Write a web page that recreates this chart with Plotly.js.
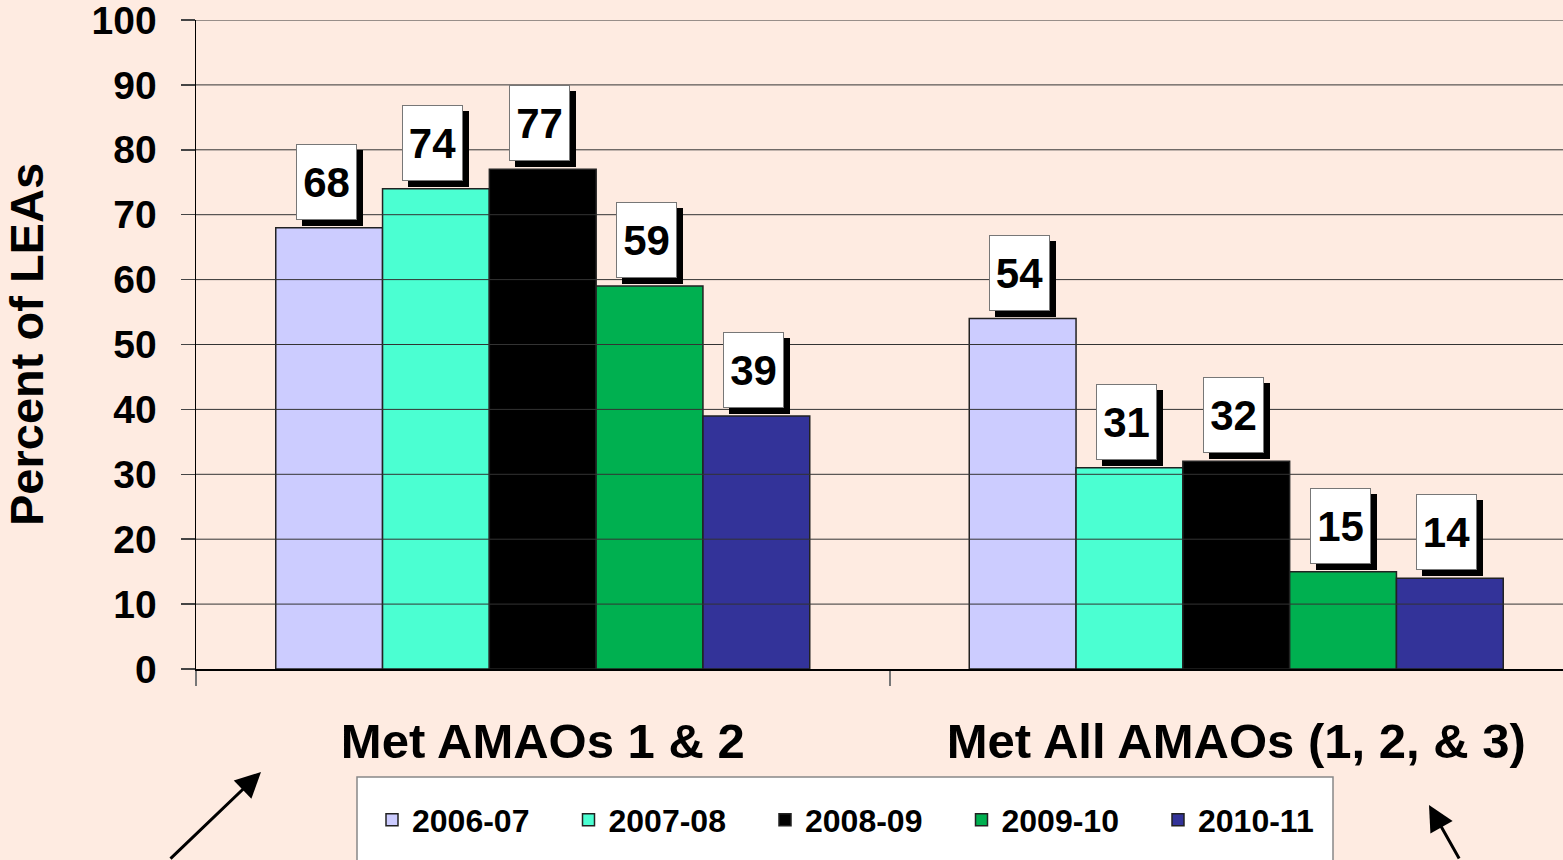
<!DOCTYPE html>
<html>
<head>
<meta charset="utf-8">
<script src="https://cdn.plot.ly/plotly-3.0.1.min.js"></script>
<style>html,body{margin:0;padding:0;background:#FEEBE1;}#chart{width:1563px;height:860px;}</style>
</head>
<body>
<div id="chart"></div>
<script>
// ---- data ----
const categories = ['Met AMAOs 1 & 2', 'Met All AMAOs (1, 2, & 3)'];
const seriesNames = ['2006-07', '2007-08', '2008-09', '2009-10', '2010-11'];
const values2006_07 = [68, 54];
const values2007_08 = [74, 31];
const values2008_09 = [77, 32];
const values2009_10 = [59, 15];
const values2010_11 = [39, 14];
const seriesColors = ['#CCCCFF', '#4BFFD2', '#000000', '#00B050', '#333399'];
const yTickValues = [0, 10, 20, 30, 40, 50, 60, 70, 80, 90, 100];

const allValues = [values2006_07, values2007_08, values2008_09, values2009_10, values2010_11];

// ---- layout geometry ----
const W = 1563, H = 860;
const M = {l: 196, r: 0, t: 20, b: 191};
const plotW = W - M.l - M.r, plotH = H - M.t - M.b;
const catPx = 693.5;
const xRange = [-0.5, -0.5 + plotW / catPx];
const bargap = 0.23;
const nSeries = seriesNames.length;
const barW = (1 - bargap) / nSeries;
const px2x = p => (p - M.l) / plotW;
const px2y = p => (M.t + plotH - p) / plotH;

const FONT = 'Liberation Sans, Arial, sans-serif';

const traces = allValues.map((vals, i) => ({
  type: 'bar',
  name: seriesNames[i],
  x: categories,
  y: vals,
  marker: {color: seriesColors[i], line: {color: '#222222', width: 1.5}},
  hoverinfo: 'skip'
}));

const annotations = [];
allValues.forEach((vals, i) => {
  vals.forEach((v, c) => {
    const xc = c - (1 - bargap) / 2 + barW * (i + 0.5);
    const base = {
      x: xc, y: v, xref: 'x', yref: 'y', showarrow: false,
      yanchor: 'bottom', xanchor: 'center',
      width: 59, height: 74, borderpad: 0, borderwidth: 1
    };
    annotations.push(Object.assign({}, base, {
      text: '', bgcolor: '#000000', bordercolor: '#000000',
      xshift: 3, yshift: 2
    }));
    annotations.push(Object.assign({}, base, {
      text: String(v), bgcolor: '#FFFFFF', bordercolor: '#777777',
      xshift: -3, yshift: 8,
      font: {family: FONT, size: 42, color: '#000000', weight: 'bold'}
    }));
  });
});

// decorative arrows below the chart
annotations.push({
  x: px2x(261), y: px2y(772), xref: 'paper', yref: 'paper',
  ax: -92, ay: 90, text: '', showarrow: true,
  arrowhead: 2, arrowsize: 1.7, arrowwidth: 3, arrowcolor: '#000000'
});
annotations.push({
  x: px2x(1429), y: px2y(805), xref: 'paper', yref: 'paper',
  ax: 31, ay: 60, text: '', showarrow: true,
  arrowhead: 2, arrowsize: 1.7, arrowwidth: 3, arrowcolor: '#000000'
});

const shapes = [];
// gridlines drawn over bars, as in the reference
yTickValues.filter(v => v > 0).forEach(v => {
  shapes.push({type: 'line', xref: 'paper', yref: 'y', x0: 0, x1: 1, y0: v, y1: v,
    line: {color: '#333333', width: 1}, layer: 'above'});
});
// legend box
shapes.push({type: 'rect', xref: 'paper', yref: 'paper',
  x0: px2x(357), x1: px2x(1333), y0: px2y(880), y1: px2y(777),
  fillcolor: '#FFFFFF', line: {color: '#888888', width: 1.5}, layer: 'below'});

const layout = {
  width: W, height: H,
  margin: M,
  paper_bgcolor: '#FEEBE1',
  plot_bgcolor: '#FEEBE1',
  barmode: 'group',
  bargap: bargap,
  bargroupgap: 0,
  showlegend: true,
  font: {family: FONT, color: '#000000'},
  xaxis: {
    type: 'category',
    range: xRange,
    showgrid: false,
    showline: true, linecolor: '#000000', linewidth: 1.5,
    ticks: 'outside', tickson: 'boundaries', ticklen: 15, tickwidth: 2, tickcolor: '#777777',
    ticklabelstandoff: 29,
    tickfont: {family: FONT, size: 49, color: '#000000', weight: 'bold'},
    fixedrange: true
  },
  yaxis: {
    range: [0, 100],
    tickvals: yTickValues,
    ticktext: yTickValues.map(String),
    showgrid: false,
    zeroline: false,
    showline: true, linecolor: '#000000', linewidth: 1.5,
    ticks: 'outside', ticklen: 14, tickwidth: 1.5, tickcolor: '#444444',
    ticklabelstandoff: 16,
    ticklabeloverflow: 'allow',
    tickfont: {family: FONT, size: 39, color: '#000000', weight: 'bold'},
    title: {text: 'Percent of LEAs', font: {family: FONT, size: 47, color: '#000000', weight: 'bold'}, standoff: 48},
    fixedrange: true
  },
  legend: {
    orientation: 'h',
    x: px2x(372), xanchor: 'left',
    y: px2y(820), yanchor: 'middle',
    bgcolor: 'rgba(0,0,0,0)', borderwidth: 0,
    font: {family: FONT, size: 32, color: '#000000', weight: 'bold'},
    entrywidth: 151.5, entrywidthmode: 'pixels',
    traceorder: 'normal'
  },
  annotations: annotations,
  shapes: shapes
};

Plotly.newPlot('chart', traces, layout, {displayModeBar: false, staticPlot: true});
</script>
</body>
</html>
